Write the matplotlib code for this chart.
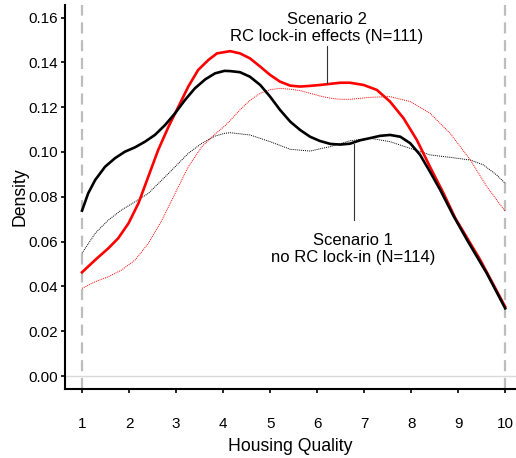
import matplotlib
matplotlib.use("Agg")
import matplotlib.pyplot as plt

plt.rcParams['font.family'] = ['Liberation Sans', 'DejaVu Sans']

# Scenario 1 (no RC lock-in), solid black
s1_x = [1.0, 1.13, 1.28, 1.49, 1.70, 1.91, 2.13, 2.34, 2.55, 2.77, 2.98, 3.19, 3.40,
        3.62, 3.83, 4.03, 4.15, 4.36, 4.57, 4.79, 5.0, 5.21, 5.43, 5.64, 5.85, 6.06,
        6.28, 6.49, 6.70, 6.91, 7.13, 7.34, 7.55, 7.77, 7.98, 8.19, 8.40, 8.62, 8.90,
        9.19, 9.61, 10.0]
s1_y = [0.0738, 0.0815, 0.0875, 0.0934, 0.0972, 0.1001, 0.1021, 0.1046, 0.1076, 0.1121,
        0.1173, 0.1232, 0.1284, 0.1324, 0.1351, 0.1362, 0.1361, 0.1356, 0.1336, 0.1299,
        0.1247, 0.1188, 0.1135, 0.1098, 0.1068, 0.1049, 0.1036, 0.1033, 0.1037, 0.1052,
        0.1062, 0.1072, 0.1076, 0.1068, 0.1039, 0.0987, 0.0912, 0.0830, 0.0715, 0.0607,
        0.0458, 0.0302]

# Scenario 2 (RC lock-in effects), solid red
s2_x = [1.0, 1.28, 1.56, 1.77, 1.99, 2.20, 2.41, 2.62, 2.84, 3.05, 3.26, 3.47, 3.69,
        3.87, 4.15, 4.36, 4.57, 4.79, 5.0, 5.21, 5.43, 5.64, 5.85, 6.06, 6.28, 6.49,
        6.70, 6.99, 7.27, 7.55, 7.84, 8.12, 8.40, 8.69, 8.94, 9.47, 10.0]
s2_y = [0.0463, 0.0518, 0.0570, 0.0615, 0.0682, 0.0771, 0.0890, 0.1009, 0.1113, 0.1202,
        0.1292, 0.1366, 0.1411, 0.1440, 0.1450, 0.1440, 0.1418, 0.1381, 0.1344, 0.1314,
        0.1296, 0.1292, 0.1295, 0.1299, 0.1304, 0.1309, 0.1309, 0.1299, 0.1277, 0.1225,
        0.1150, 0.1054, 0.0934, 0.0815, 0.0704, 0.0518, 0.0309]

# thin dotted black
d1_x = [1.0, 1.28, 1.56, 1.84, 2.13, 2.41, 2.70, 2.98, 3.26, 3.55, 3.83, 4.03, 4.15,
        4.57, 5.0, 5.43, 5.85, 6.28, 6.70, 7.13, 7.55, 7.98, 8.40, 8.83, 9.26, 9.54,
        9.82, 10.0]
d1_y = [0.0548, 0.0637, 0.0696, 0.0741, 0.0778, 0.0815, 0.0875, 0.0934, 0.0994, 0.1039,
        0.1071, 0.1083, 0.1086, 0.1076, 0.1046, 0.1012, 0.1004, 0.1024, 0.1050, 0.1061,
        0.1046, 0.1016, 0.0987, 0.0976, 0.0964, 0.0942, 0.0897, 0.086]

# thin dotted red
d2_x = [1.0, 1.28, 1.56, 1.84, 2.13, 2.41, 2.70, 2.98, 3.26, 3.55, 3.83, 4.03, 4.15,
        4.36, 4.57, 4.79, 5.0, 5.21, 5.43, 5.64, 5.85, 6.06, 6.28, 6.49, 6.70, 7.13,
        7.55, 7.98, 8.40, 8.83, 9.26, 9.61, 10.0]
d2_y = [0.0391, 0.0421, 0.0443, 0.0473, 0.0518, 0.0592, 0.0696, 0.0815, 0.0934, 0.1024,
        0.1080, 0.1115, 0.1140, 0.1188, 0.1230, 0.1262, 0.1278, 0.1284, 0.1280, 0.1274,
        0.1262, 0.1250, 0.1240, 0.1235, 0.1235, 0.1244, 0.1247, 0.1225, 0.1173, 0.1083,
        0.0964, 0.0845, 0.0735]

x_ticks = list(range(1, 11))
y_ticks = [0.00, 0.02, 0.04, 0.06, 0.08, 0.10, 0.12, 0.14, 0.16]

fig = plt.figure(figsize=(5.16, 4.58), dpi=100)
ax = fig.add_axes([65 / 516, 69 / 458, 451 / 516, 384 / 458])

ax.axhline(0, color='#d9d9d9', linewidth=1, zorder=1)
for xv in (1, 10):
    ax.axvline(xv, color='#bdbdbd', linewidth=1.6, linestyle=(0, (5, 3)), zorder=1)

ax.plot(d1_x, d1_y, color='black', linewidth=0.7, linestyle=(0, (1, 1)), zorder=2)
ax.plot(d2_x, d2_y, color='red', linewidth=0.7, linestyle=(0, (1, 1)), zorder=2)
ax.plot(s2_x, s2_y, color='red', linewidth=1.9, zorder=3)
ax.plot(s1_x, s1_y, color='black', linewidth=1.9, zorder=4)

# annotations
ax.plot([6.21, 6.21], [0.1475, 0.1306], color='#333333', linewidth=0.8, zorder=5)
ax.text(6.21, 0.1482, 'Scenario 2\nRC lock-in effects (N=111)', ha='center', va='bottom',
        fontsize=12, linespacing=1.2)
ax.plot([6.79, 6.79], [0.1034, 0.0696], color='#333333', linewidth=0.8, zorder=5)
ax.text(6.76, 0.064, 'Scenario 1\nno RC lock-in (N=114)', ha='center', va='top',
        fontsize=12, linespacing=1.2)

ax.set_xlim(0.638, 10.23)
ax.set_ylim(-0.0058, 0.1656)
ax.set_xticks(x_ticks)
ax.set_yticks(y_ticks)
ax.set_yticklabels([f'{v:.2f}' for v in y_ticks])

for side in ('top', 'right'):
    ax.spines[side].set_visible(False)
for side in ('left', 'bottom'):
    ax.spines[side].set_linewidth(1.5)

ax.tick_params(axis='x', length=3, width=1.2, pad=17, labelsize=11)
ax.tick_params(axis='y', length=3, width=1.2, pad=2, labelsize=11)

ax.set_xlabel('Housing Quality', fontsize=12.7)
ax.set_ylabel('Density', fontsize=12.7)
ax.xaxis.set_label_coords(0.5, -0.128)
ax.yaxis.set_label_coords(-0.08, 0.5)

fig.savefig('out.png', dpi=100)
